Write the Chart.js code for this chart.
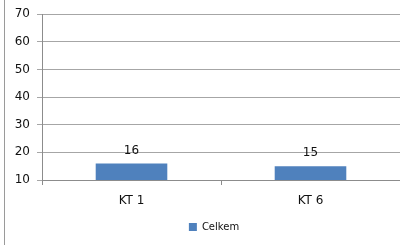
<!doctype html>
<html>
<head>
<meta charset="utf-8">
<title>Celkem</title>
<script src="https://cdn.jsdelivr.net/npm/chart.js@4/dist/chart.umd.min.js"></script>
<style>
  html, body { margin: 0; padding: 0; background: #fff; }
  #wrap { width: 400px; height: 245px; }
</style>
</head>
<body>
<div id="wrap"><canvas id="chart" width="400" height="245"></canvas></div>
<script>
var categories = ["KT 1", "KT 6"];
var seriesName = "Celkem";
var values = [16, 15];
var yMin = 10, yMax = 70, yStep = 10;

// left frame line like the original sheet border
var framePlugin = {
  id: "frame",
  beforeDraw: function(chart) {
    var ctx = chart.ctx;
    ctx.save();
    ctx.strokeStyle = "#9a9a9a";
    ctx.lineWidth = 1;
    ctx.beginPath();
    ctx.moveTo(4.5, 0);
    ctx.lineTo(4.5, chart.height);
    ctx.stroke();
    ctx.restore();
  },
  // legend sits a bit right of centre in the original
  afterLayout: function(chart) {
    if (chart.legend) {
      chart.legend.left += 14;
      chart.legend.right += 14;
    }
  }
};

// value labels above bars
var valuePlugin = {
  id: "values",
  afterDatasetsDraw: function(chart) {
    var ctx = chart.ctx;
    var meta = chart.getDatasetMeta(0);
    ctx.save();
    ctx.fillStyle = "#111";
    ctx.font = "12px 'DejaVu Sans', sans-serif";
    ctx.textAlign = "center";
    ctx.textBaseline = "bottom";
    meta.data.forEach(function(bar, i) {
      ctx.fillText(String(values[i]), bar.x, bar.y - 7);
    });
    ctx.restore();
  }
};

var ctx = document.getElementById("chart").getContext("2d");
new Chart(ctx, {
  type: "bar",
  data: {
    labels: categories,
    datasets: [{
      label: seriesName,
      data: values,
      backgroundColor: "#4f81bd",
      borderWidth: 0,
      barPercentage: 0.4,
      categoryPercentage: 1.0
    }]
  },
  options: {
    responsive: false,
    animation: false,
    layout: { padding: { left: 0, right: 0, top: 8, bottom: 3 } },
    plugins: {
      tooltip: { enabled: false },
      legend: {
        position: "bottom",
        labels: {
          boxWidth: 8,
          boxHeight: 8,
          padding: 10,
          color: "#111",
          font: { family: "'DejaVu Sans', sans-serif", size: 10 }
        }
      }
    },
    scales: {
      x: {
        grid: {
          display: true,
          drawOnChartArea: false,
          drawTicks: true,
          tickLength: 5,
          offset: true,
          color: "#8c8c8c"
        },
        border: { color: "#8c8c8c" },
        ticks: {
          color: "#111",
          padding: 9,
          font: { family: "'DejaVu Sans', sans-serif", size: 12 }
        },
        afterFit: function(scale) { scale.height = 32; }
      },
      y: {
        min: yMin,
        max: yMax,
        grid: {
          color: "#a6a6a6",
          tickLength: 5
        },
        border: { color: "#8c8c8c" },
        ticks: {
          stepSize: yStep,
          color: "#111",
          padding: 7,
          font: { family: "'DejaVu Sans', sans-serif", size: 12 }
        },
        afterFit: function(scale) { scale.width = 42; }
      }
    }
  },
  plugins: [framePlugin, valuePlugin]
});
</script>
</body>
</html>
